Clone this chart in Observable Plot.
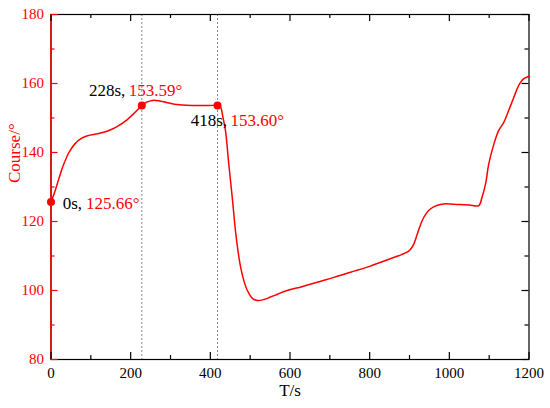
<!DOCTYPE html>
<html><head><meta charset="utf-8">
<script src="https://cdn.jsdelivr.net/npm/d3@7"></script>
<script src="https://cdn.jsdelivr.net/npm/@observablehq/plot@0.6"></script>
<style>
body{margin:0;background:#fff}
</style>
</head><body><div id="chart"></div>
<script>
const time = [0,10,20,30,45,60,75,90,110,130,150,170,190,210,228,240,255,270,290,310,340,380,418,425,432,438,446,455,463,470,476,485,493,505,518,535,551,570,593,630,668,710,752,800,852,880,898,905,911,920,932,943,953,970,986,1010,1028,1050,1074,1082,1091,1099,1112,1124,1137,1149,1162,1174,1187,1200];
const course = [125.66,128.8,132.5,136,140,142.5,144,144.8,145.3,145.8,146.6,147.8,149.4,151.5,153.59,154.6,155.1,155,154.5,154,153.7,153.6,153.6,153.3,150,146.4,137,127,117.4,111,106.8,102.5,100,97.8,97.1,97.4,98.1,99.0,100,101.1,102.4,103.8,105.3,107,109.2,110.4,111.4,112.3,113.5,116.5,120.3,122.5,123.7,124.7,125.1,125,124.9,124.8,124.6,127.0,130.9,136.7,142.5,146.4,148.8,152.2,156,159.4,161.4,162];
const markTimes = [0,228,418];
const markCourses = [125.66,153.59,153.60];
const markTimeLabels = ["0s,","228s,","418s,"];
const markCourseLabels = ["125.66°","153.59°","153.60°"];
const xMajor = [0,200,400,600,800,1000,1200];
const xMinor = [100,300,500,700,900,1100];
const yMajor = [80,100,120,140,160,180];
const yMinor = [90,110,130,150,170];

const series = time.map((t,i)=>({t, c: course[i]}));
const marks = markTimes.map((t,i)=>({t, c: markCourses[i], tl: markTimeLabels[i], cl: markCourseLabels[i]}));

const W = 550, H = 408, mL = 50.5, mR = 21.5, mT = 14, mB = 49;
const pw = W - mL - mR, ph = H - mT - mB;
const FONT = "Liberation Serif";

const annot = [
  {i:0, dxB:31, dxR:35, dy:2},
  {i:1, dxB:-16.5, dxR:-13, dy:-15},
  {i:2, dxB:9.5, dxR:13, dy:15}
];
const annotMarks = annot.flatMap(a => [
  Plot.text([marks[a.i]], {x:"t", y:"c", text:"tl", textAnchor:"end", dx:a.dxB, dy:a.dy, fill:"black", fontSize:17}),
  Plot.text([marks[a.i]], {x:"t", y:"c", text:"cl", textAnchor:"start", dx:a.dxR, dy:a.dy, fill:"red", fontSize:17})
]);

const chart = Plot.plot({
  width: W, height: H,
  marginLeft: mL, marginRight: mR, marginTop: mT, marginBottom: mB,
  style: {fontSize: "15px", background: "white", color: "black"},
  x: {domain: [0,1200]},
  y: {domain: [80,180]},
  marks: [
    Plot.ruleX([228,418], {stroke:"#888", strokeWidth:1, strokeDasharray:"2,2"}),
    Plot.frame({stroke:"black", strokeWidth:1.2}),
    Plot.ruleX([0], {stroke:"red", strokeWidth:1.4}),
    Plot.tickX(xMajor, {x:d=>d, insetTop: ph-7, stroke:"black", strokeWidth:1.2}),
    Plot.tickX(xMinor, {x:d=>d, insetTop: ph-4, stroke:"black", strokeWidth:1.2}),
    Plot.tickX(xMajor, {x:d=>d, insetBottom: ph-7, stroke:"black", strokeWidth:1.2}),
    Plot.tickX(xMinor, {x:d=>d, insetBottom: ph-4, stroke:"black", strokeWidth:1.2}),
    Plot.tickY(yMajor, {y:d=>d, insetRight: pw-7, stroke:"red", strokeWidth:1.2}),
    Plot.tickY(yMinor, {y:d=>d, insetRight: pw-4, stroke:"red", strokeWidth:1.2}),
    Plot.tickY(yMajor, {y:d=>d, insetLeft: pw-7, stroke:"black", strokeWidth:1.2}),
    Plot.tickY(yMinor, {y:d=>d, insetLeft: pw-4, stroke:"black", strokeWidth:1.2}),
    Plot.axisX(xMajor, {tickSize:0, tickPadding:8, fontSize:15, tickFormat:d=>String(d), label:null}),
    Plot.axisY(yMajor, {tickSize:0, tickPadding:7, fontSize:15, color:"red", tickFormat:d=>String(d), label:null}),
    Plot.line(series, {x:"t", y:"c", stroke:"red", strokeWidth:1.5, curve:"catmull-rom"}),
    Plot.dot(marks, {x:"t", y:"c", r:4, fill:"red", stroke:"none"}),
    ...annotMarks,
    Plot.text(["Course/°"], {frameAnchor:"left", rotate:-90, dx:-36, dy:-4, fill:"red", fontSize:17}),
    Plot.text(["T/s"], {frameAnchor:"bottom", dy:36, fill:"black", fontSize:17})
  ]
});
d3.select(chart).attr("font-family", FONT).style("font-family", FONT);
d3.select(chart).selectAll("g, text").attr("font-family", FONT).style("font-family", FONT);
document.getElementById("chart").appendChild(chart);
</script>
</body></html>
